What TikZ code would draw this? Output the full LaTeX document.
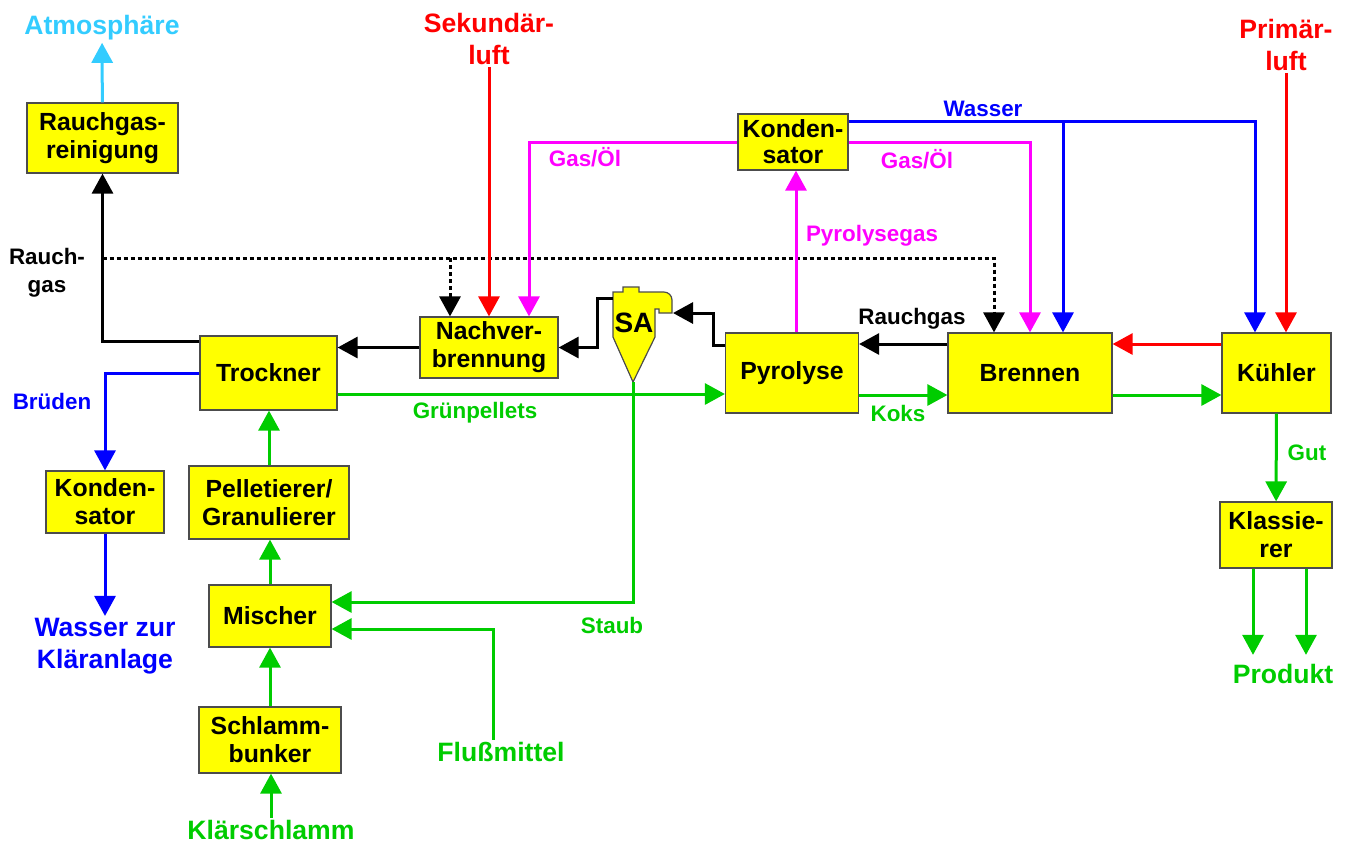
\documentclass[tikz,border=0pt]{standalone}
\usepackage{fontspec}
\setmainfont{Liberation Sans}
\usetikzlibrary{arrows.meta,calc}
\definecolor{grn}{RGB}{0,204,0}
\definecolor{sky}{RGB}{51,204,255}
\definecolor{ylw}{RGB}{255,255,0}
\definecolor{mag}{RGB}{255,0,255}
\definecolor{rd}{RGB}{255,0,0}
\definecolor{blu}{RGB}{0,0,255}

\begin{document}
\begin{tikzpicture}[
  x=0.5pt, y=-0.5pt,
  font=\bfseries\fontsize{12.4}{14}\selectfont,
  unit/.style={rectangle, draw=black!70, line width=0.6pt, fill=ylw,
    align=center, inner sep=0pt},
  lbl/.style={font=\bfseries\fontsize{11.2}{14}\selectfont, align=center,
    inner sep=1pt},
  io/.style={font=\bfseries\fontsize{13.3}{15.7}\selectfont, align=center,
    inner sep=1pt},
  arr/.style={-{Triangle[length=10pt,width=10.5pt]}, line width=1.5pt},
  dotarr/.style={arr, dash pattern=on 2pt off 1.5pt}
]
\useasboundingbox (0,0) rectangle (1348,843);

% Anlagenteile
\node[unit, minimum width=75.5pt, minimum height=35pt] (rgr) at (102.5,138)
  {Rauchgas-\\reinigung};
\node[unit, minimum width=68.5pt, minimum height=37pt] (trock) at (268.5,373)
  {Trockner};
\node[unit, minimum width=59pt, minimum height=31pt] (kondb) at (105,502)
  {Konden-\\sator};
\node[unit, minimum width=80pt, minimum height=36.5pt] (pell) at (269,502.5)
  {Pelletierer/\\Granulierer};
\node[unit, minimum width=61pt, minimum height=31pt] (misch) at (270,616)
  {Mischer};
\node[unit, minimum width=71pt, minimum height=33pt] (schlamm) at (270,740)
  {Schlamm-\\bunker};
\node[unit, minimum width=69pt, minimum height=30.5pt] (nachv) at (489,347.5)
  {Nachver-\\brennung};
\node[unit, minimum width=66.5pt, minimum height=40pt] (pyro) at (792,373)
  {Pyrolyse};
\node[unit, minimum width=55pt, minimum height=28pt,
  font=\bfseries\fontsize{12.4}{13}\selectfont] (kondp) at (793,142)
  {Konden-\\sator};
\node[unit, minimum width=82pt, minimum height=40pt] (brenn) at (1030,373)
  {Brennen};
\node[unit, minimum width=54.5pt, minimum height=40pt] (kuehl) at (1276.5,373)
  {Kühler};
\node[unit, minimum width=56pt, minimum height=33pt] (klass) at (1276,535)
  {Klassie-\\rer};

% Zyklon
\draw[fill=ylw, draw=black!70, line width=0.6pt]
  (613,292) -- (623,292) -- (623,287) -- (639,287) -- (639,292) -- (664,292)
  to[out=0,in=90] (672,300) -- (672,313) -- (659,313) -- (659,309)
  -- (655,309) -- (655,337) -- (633,382) -- (613,337) -- cycle;
\node[font=\bfseries\fontsize{14}{16}\selectfont] (sa) at (634,323) {SA};
\coordinate (sa-in) at (673,313);
\coordinate (sa-out) at (613,298);
\coordinate (sa-tip) at (633,382);

% Ein- und Ausgaenge
\node[io, sky] (atm) at (102,28) {Atmosphäre};
\node[io, rd] (sekluft) at (489,39) {Sekundär-\\luft};
\node[io, rd] (primluft) at (1286,45) {Primär-\\luft};
\node[io, blu] (wasserkl) at (105,646) {Wasser zur\\Kläranlage};
\node[io, grn] (fluss) at (501,752) {Flußmittel};
\node[io, grn] (produkt) at (1283,674) {Produkt};
\node[io, grn] (klaer) at (271,830) {Klärschlamm};

% Stromlabels
\node[lbl] (l-rauch1) at (47,273) {Rauch-\\gas};
\node[lbl, blu] (l-brueden) at (52,401) {Brüden};
\node[lbl, mag] (l-gas1) at (585,157) {Gas/Öl};
\node[lbl, mag] (l-gas2) at (917,159) {Gas/Öl};
\node[lbl, blu] (l-wasser) at (983,109) {Wasser};
\node[lbl, mag] (l-pgas) at (872,236) {Pyrolysegas};
\node[lbl] (l-rauch2) at (912,319) {Rauchgas};
\node[lbl, grn] (l-koks) at (898,413) {Koks};
\node[lbl, grn] (l-gruen) at (475,413) {Grünpellets};
\node[lbl, grn] (l-staub) at (612,625) {Staub};
\node[lbl, grn] (l-gut) at (1307,453) {Gut};

\coordinate (rg-split) at (102.5,258);
\coordinate (nachv-in1) at ($(nachv.north)+(-39,0)$);
\coordinate (nachv-in3) at ($(nachv.north)+(40,0)$);
\coordinate (brenn-in1) at ($(brenn.north)+(-36,0)$);
\coordinate (brenn-in3) at ($(brenn.north)+(33,0)$);
\coordinate (kondp-w) at ($(kondp.north east)+(0,8)$);
\coordinate (klass-o1) at ($(klass.south)+(-23,0)$);
\coordinate (klass-o2) at ($(klass.south)+(30,0)$);

% Rauchgas
\draw[dotarr] (rg-split) -| (brenn-in1);
\draw[dotarr] (rg-split -| nachv-in1) -- (nachv-in1);
\draw[arr] ($(trock.north west)+(0,6)$) -| (rgr);
\draw[arr, sky] (rgr) -- (atm);
\draw[arr] (nachv.west) -- (nachv.west -| trock.east);
\draw[arr] (sa-out) -- ++(-16,0) |- (nachv.east);
\draw[arr] ($(pyro.north west)+(0,13)$) -| ($(sa-in)+(40,0)$) -- (sa-in);
\draw[arr] ($(brenn.west)+(0,-29)$) -- ($(pyro.east)+(0,-29)$);

% Luft, Wasser, Gas
\draw[arr, rd] (sekluft) -- (nachv);
\draw[arr, rd] (primluft) -- (primluft |- kuehl.north);
\draw[arr, rd] ($(kuehl.west)+(0,-29)$) -- ($(brenn.east)+(0,-29)$);
\draw[arr, blu] (trock.west) -| (kondb);
\draw[arr, blu] (kondb) -- (wasserkl);
\draw[arr, blu] (kondp-w) -| ($(kuehl.north)+(-21.5,0)$);
\draw[arr, blu] (brenn-in3 |- kondp-w) -- (brenn-in3);
\draw[arr, mag] ($(pyro.north)+(4,0)$) -- ($(kondp.south)+(3,0)$);
\draw[arr, mag] (kondp.west) -| (nachv-in3);
\draw[arr, mag] (kondp.east) -| (brenn);

% Feststoff
\draw[arr, grn] (klaer) -- (klaer |- schlamm.south);
\draw[arr, grn] (schlamm) -- (schlamm |- misch.south);
\draw[arr, grn] (misch) -- (misch |- pell.south);
\draw[arr, grn] (pell) -- (pell |- trock.south);
\draw[arr, grn] (sa-tip) |- ($(misch.east)+(0,-14)$);
\draw[arr, grn] ($(fluss.north)+(-8,0)$) |- ($(misch.east)+(0,13)$);
\draw[arr, grn] ($(trock.east)+(0,21)$) -- ($(pyro.west)+(0,21)$);
\draw[arr, grn] ($(pyro.east)+(0,22)$) -- ($(brenn.west)+(0,22)$);
\draw[arr, grn] ($(brenn.east)+(0,22)$) -- ($(kuehl.west)+(0,22)$);
\draw[arr, grn] (kuehl) -- (klass);
\draw[arr, grn, shorten >=3.5pt] (klass-o1) -- (klass-o1 |- produkt.north);
\draw[arr, grn, shorten >=3.5pt] (klass-o2) -- (klass-o2 |- produkt.north);
\end{tikzpicture}
\end{document}
